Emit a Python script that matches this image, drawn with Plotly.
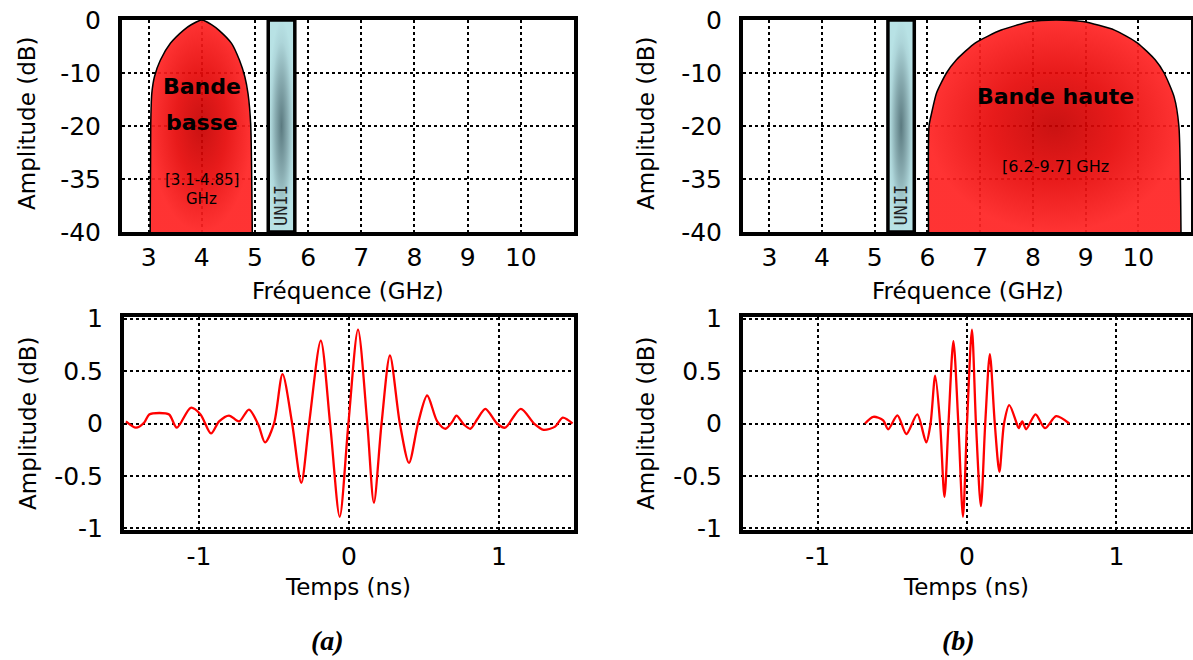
import plotly.graph_objects as go

W, H = 1193, 660
FONT = "DejaVu Sans"

# ---------------- data ----------------
freq_ticks = [3, 4, 5, 6, 7, 8, 9, 10]
amp_tick_pos = [0, -10, -20, -30, -40]
amp_tick_labels = ["0", "-10", "-20", "-35", "-40"]
unii_band = [5.25, 5.75]

low_band_f = [3.03, 3.04, 3.06, 3.11, 3.22, 3.41, 3.66, 3.80, 4.0, 4.19, 4.32, 4.56, 4.71, 4.81, 4.87, 4.92, 4.95]
low_band_db = [-40, -19.7, -13.9, -10.7, -7.6, -4.4, -1.9, -0.9, 0, -0.9, -1.9, -4.4, -7.6, -10.7, -13.9, -19.7, -40]

high_band_f = [6.02, 6.03, 6.08, 6.17, 6.36, 6.55, 6.91, 7.40, 7.96, 8.43, 8.95, 9.55, 9.98, 10.32, 10.49, 10.68, 10.77, 10.81]
high_band_db = [-40, -20, -17.5, -13.8, -10, -7.5, -4.3, -1.9, -0.3, 0, -0.3, -1.9, -4.3, -7.5, -10, -14.5, -20, -40]

time_ticks = [-1, 0, 1]
time_tick_labels = ["-1", "0", "1"]
pulse_tick_pos = [-1, -0.5, 0, 0.5, 1]
pulse_tick_labels = ["-1", "-0.5", "0", "0.5", "1"]

wave_a_t = [-1.487, -1.42, -1.365, -1.332, -1.265, -1.199, -1.148, -1.055, -0.99, -0.92, -0.866,
            -0.80, -0.733, -0.667, -0.605, -0.56, -0.50, -0.443, -0.379, -0.318, -0.266, -0.188,
            -0.126, -0.062, -0.004, 0.060, 0.122, 0.166, 0.217, 0.273, 0.339, 0.40, 0.46, 0.521,
            0.588, 0.643, 0.69, 0.716, 0.766, 0.809, 0.855, 0.909, 0.987, 1.04, 1.145, 1.234,
            1.297, 1.374, 1.425, 1.49]
wave_a_amp = [0.02, -0.04, 0.01, 0.086, 0.10, 0.086, -0.04, 0.15, 0.086, -0.095, 0.02,
              0.076, 0.02, 0.133, -0.01, -0.18, 0.0, 0.47, 0.0, -0.565, 0.0, 0.79,
              0.0, -0.889, 0.0, 0.895, 0.0, -0.755, 0.0, 0.648, 0.0, -0.375, 0.0, 0.267,
              0.02, -0.05, 0.02, 0.076, -0.01, -0.05, 0.04, 0.14, 0.0, -0.04, 0.14, 0.0,
              -0.06, -0.03, 0.055, 0.0]

wave_b_t = [-0.683, -0.627, -0.561, -0.528, -0.466, -0.406, -0.333, -0.273, -0.244, -0.213,
            -0.18, -0.151, -0.124, -0.091, -0.058, -0.027, 0.0, 0.033, 0.06, 0.093, 0.122,
            0.153, 0.186, 0.217, 0.248, 0.283, 0.333, 0.346, 0.37, 0.396, 0.459, 0.522,
            0.597, 0.685]
wave_b_amp = [0.0, 0.064, 0.03, -0.055, 0.077, -0.10, 0.087, -0.18, 0.0, 0.455,
              0.0, -0.70, 0.0, 0.785, 0.0, -0.889, 0.0, 0.895, 0.0, -0.788, 0.0,
              0.66, 0.0, -0.46, 0.0, 0.175, 0.0, -0.045, 0.02, -0.055, 0.087, -0.045,
              0.07, 0.0]

# ---------------- helpers ----------------
def px_x(p):
    return p / W

def px_y(p):
    return 1 - p / H

red_grad = dict(type="radial", colorscale=[[0, "rgba(198,0,0,0.93)"], [0.5, "rgba(230,10,10,0.93)"], [1, "rgba(255,36,36,0.93)"]])
unii_grad = dict(type="radial", colorscale=[[0, "#5b7a80"], [0.45, "#88abb0"], [0.8, "#aed6da"], [1, "#b8e2e5"]])

fig = go.Figure()

def add_band(f, db, xa, ya):
    fig.add_trace(go.Scatter(x=f, y=db, xaxis=xa, yaxis=ya, mode="lines", fill="toself",
                             fillgradient=red_grad, line=dict(color="black", width=1.5, shape="spline", smoothing=0.6),
                             hoverinfo="skip", showlegend=False))

def add_unii(xa, ya):
    x0, x1 = unii_band
    fig.add_trace(go.Scatter(x=[x0, x1, x1, x0, x0], y=[-40, -40, 0, 0, -40], xaxis=xa, yaxis=ya,
                             mode="lines", fill="toself", fillgradient=unii_grad,
                             line=dict(color="black", width=3.5), hoverinfo="skip", showlegend=False))

add_band(low_band_f, low_band_db, "x", "y")
add_unii("x", "y")
add_unii("x2", "y2")
add_band(high_band_f, high_band_db, "x2", "y2")

fig.add_trace(go.Scatter(x=wave_a_t, y=wave_a_amp, xaxis="x3", yaxis="y3", mode="lines",
                         line=dict(color="#ff0000", width=2.3, shape="spline", smoothing=0.8),
                         showlegend=False))
fig.add_trace(go.Scatter(x=wave_b_t, y=wave_b_amp, xaxis="x4", yaxis="y4", mode="lines",
                         line=dict(color="#ff0000", width=2.3, shape="spline", smoothing=0.8),
                         showlegend=False))

axis_common = dict(showgrid=True, gridcolor="black", gridwidth=2, griddash="dot",
                   showline=True, linecolor="black", linewidth=4, mirror=True, automargin=False,
                   ticks="", zeroline=False, tickfont=dict(family=FONT, size=25, color="black"),
                   ticklabeloverflow="allow", fixedrange=True)

top_y = [px_y(232), px_y(20)]
bot_y = [px_y(530), px_y(317)]
left_top_x = [px_x(122), px_x(574)]
left_bot_x = [px_x(124), px_x(574)]
right_x = [px_x(743), px_x(1191)]

fig.update_layout(
    width=W, height=H, margin=dict(l=0, r=0, t=0, b=0, autoexpand=False),
    paper_bgcolor="white", plot_bgcolor="white", showlegend=False,
    xaxis=dict(axis_common, domain=left_top_x, range=[2.5, 11], tickvals=freq_ticks, anchor="y", ticklabelstandoff=0),
    yaxis=dict(axis_common, domain=top_y, range=[-40, 0], tickvals=amp_tick_pos, ticktext=amp_tick_labels, anchor="x", ticklabelstandoff=12),
    xaxis2=dict(axis_common, domain=right_x, range=[2.5, 11], tickvals=freq_ticks, anchor="y2", ticklabelstandoff=0),
    yaxis2=dict(axis_common, domain=top_y, range=[-40, 0], tickvals=amp_tick_pos, ticktext=amp_tick_labels, anchor="x2", ticklabelstandoff=12),
    xaxis3=dict(axis_common, domain=left_bot_x, range=[-1.5, 1.5], tickvals=time_ticks, ticktext=time_tick_labels, anchor="y3", ticklabelstandoff=1),
    yaxis3=dict(axis_common, domain=bot_y, range=[-1.015, 1.015], tickvals=pulse_tick_pos, ticktext=pulse_tick_labels, anchor="x3", ticklabelstandoff=12),
    xaxis4=dict(axis_common, domain=right_x, range=[-1.5, 1.5], tickvals=time_ticks, ticktext=time_tick_labels, anchor="y4", ticklabelstandoff=1),
    yaxis4=dict(axis_common, domain=bot_y, range=[-1.015, 1.015], tickvals=pulse_tick_pos, ticktext=pulse_tick_labels, anchor="x4", ticklabelstandoff=12),
)

ann = []
def paper_text(text, x, y, size, angle=0, family=FONT, color="black"):
    ann.append(dict(text=text, x=px_x(x), y=px_y(y), xref="paper", yref="paper", showarrow=False,
                    textangle=angle, font=dict(family=family, size=size, color=color),
                    xanchor="center", yanchor="middle"))

for (x, y) in [(27, 123), (646, 123), (28, 423), (646, 423)]:
    paper_text("Amplitude (dB)", x, y, 23, angle=-90)
paper_text("Fréquence (GHz)", 348, 291, 23)
paper_text("Fréquence (GHz)", 968, 291, 23)
paper_text("Temps (ns)", 348, 587, 23)
paper_text("Temps (ns)", 966, 587, 23)
paper_text("<b><i>(a)</i></b>", 327, 640, 28, family="Liberation Serif")
paper_text("<b><i>(b)</i></b>", 958, 640, 28, family="Liberation Serif")

def data_text(text, x, y, xa, ya, size, angle=0, color="black", family=FONT):
    ann.append(dict(text=text, x=x, y=y, xref=xa, yref=ya, showarrow=False, textangle=angle,
                    font=dict(family=family, size=size, color=color), xanchor="center", yanchor="middle"))

data_text("<b>Bande</b>", 4.0, -12.6, "x", "y", 22)
data_text("<b>basse</b>", 4.0, -19.3, "x", "y", 22)
data_text("[3.1-4.85]", 4.0, -30.2, "x", "y", 15)
data_text("GHz", 4.0, -33.7, "x", "y", 15)
data_text("UNII", 5.5, -35, "x", "y", 17, angle=-90, color="#222222", family="DejaVu Sans Mono")
data_text("UNII", 5.5, -35, "x2", "y2", 17, angle=-90, color="#222222", family="DejaVu Sans Mono")
data_text("<b>Bande haute</b>", 8.43, -14.5, "x2", "y2", 22)
data_text("[6.2-9.7] GHz", 8.43, -27.7, "x2", "y2", 16)

fig.update_layout(annotations=ann)
fig.write_html("out.html", config={"displayModeBar": False},
               post_script="document.body.style.margin='0px';document.body.style.overflow='hidden';")
